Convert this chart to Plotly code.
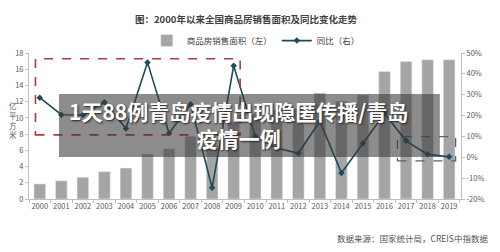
import plotly.graph_objects as go

years = [str(y) for y in range(2000, 2020)]
area = [1.86, 2.24, 2.68, 3.37, 3.82, 5.55, 6.19, 7.73, 6.59, 9.48,
        10.48, 10.99, 11.13, 13.06, 12.06, 12.85, 15.73, 16.94, 17.17, 17.16]
yoy = [28.6, 20.4, 20.3, 26.4, 13.8, 45.5, 11.5, 25.4, -14.6, 43.9,
       10.1, 4.4, 1.9, 17.3, -7.5, 6.7, 21.0, 7.9, 1.4, 0.2]
left_ticks = list(range(0, 19, 2))
right_ticks = list(range(-20, 51, 10))

FONT = "Noto Sans CJK SC"
AX = "#595959"

fig = go.Figure()
fig.add_trace(go.Bar(x=years, y=area, name="商品房销售面积（左）",
                     marker_color="#a5a5a5", width=0.54, yaxis="y"))
fig.add_trace(go.Scatter(x=years, y=yoy, name="同比（右）", yaxis="y2",
                         mode="lines+markers",
                         line=dict(color="#1d4b5c", width=1.6),
                         marker=dict(symbol="diamond", size=5, color="#1d4b5c")))

# dashed highlight boxes
fig.add_shape(type="rect", xref="x", yref="y", x0=-0.2, x1=9.3, y0=7.9, y1=17.3,
              line=dict(color="#b03a3a", width=1.6, dash="dash"), layer="above")
fig.add_shape(type="rect", xref="x", yref="y", x0=16.6, x1=19.3, y0=4.7, y1=7.7,
              line=dict(color="#5a6170", width=1.3, dash="dash"), layer="above")

# banner overlay
fig.add_shape(type="rect", xref="paper", yref="paper", x0=0.0694, x1=0.951,
              y0=0.288, y1=0.719, fillcolor="rgba(57,57,57,0.58)",
              line=dict(width=0), layer="above")
fig.add_annotation(xref="paper", yref="paper", x=0.485, y=0.507,
                   text="<b>1天88例青岛疫情出现隐匿传播/青岛<br>疫情一例</b>",
                   showarrow=False, align="center",
                   font=dict(family=FONT, size=21, color="white",
                             shadow="1px 1px 2px #222"))

# title, source, y title
fig.add_annotation(xref="paper", yref="paper", x=0.502, y=1.232, yanchor="middle",
                   text="<b>图：2000年以来全国商品房销售面积及同比变化走势</b>",
                   showarrow=False, font=dict(family=FONT, size=9.5, color="#404040"))
fig.add_annotation(xref="paper", yref="paper", x=1.067, y=-0.267, xanchor="right",
                   yanchor="middle",
                   text="数据来源：国家统计局，CREIS中指数据",
                   showarrow=False, font=dict(family=FONT, size=8.5, color="#555555"))
fig.add_annotation(xref="paper", yref="paper", x=-0.052, y=0.54,
                   text="亿<br>平<br>方<br>米", showarrow=False,
                   font=dict(family=FONT, size=7.5, color=AX))

fig.update_layout(
    width=500, height=252,
    margin=dict(l=29, r=39, t=53, b=53),
    paper_bgcolor="white", plot_bgcolor="white",
    font=dict(family=FONT, size=8, color=AX),
    showlegend=True,
    legend=dict(orientation="h", x=0.525, xanchor="center", y=1.085, yanchor="middle",
                font=dict(family=FONT, size=8.5, color="#404040"),
                itemwidth=30, bgcolor="rgba(0,0,0,0)", tracegroupgap=0),
    bargap=0.46,
    xaxis=dict(type="category", range=[-0.5, 19.55], showline=True,
               linecolor="#bfbfbf", ticks="outside", tickson="boundaries",
               ticklen=3, tickcolor="#bfbfbf", showgrid=False, tickangle=0,
               tickfont=dict(family=FONT, size=7.5, color=AX)),
    yaxis=dict(range=[0, 18], tickvals=left_ticks, showline=True,
               linecolor="#bfbfbf", ticks="outside", ticklen=3,
               tickcolor="#bfbfbf", showgrid=False, zeroline=False,
               tickfont=dict(family=FONT, size=7.5, color=AX)),
    yaxis2=dict(range=[-20, 50], tickvals=right_ticks,
                ticktext=[f"{v}%" for v in right_ticks], overlaying="y",
                side="right", showline=True, linecolor="#bfbfbf",
                ticks="outside", ticklen=3, tickcolor="#bfbfbf",
                showgrid=False, zeroline=False,
                tickfont=dict(family=FONT, size=7.5, color=AX)),
)

fig.write_html("out.html")
